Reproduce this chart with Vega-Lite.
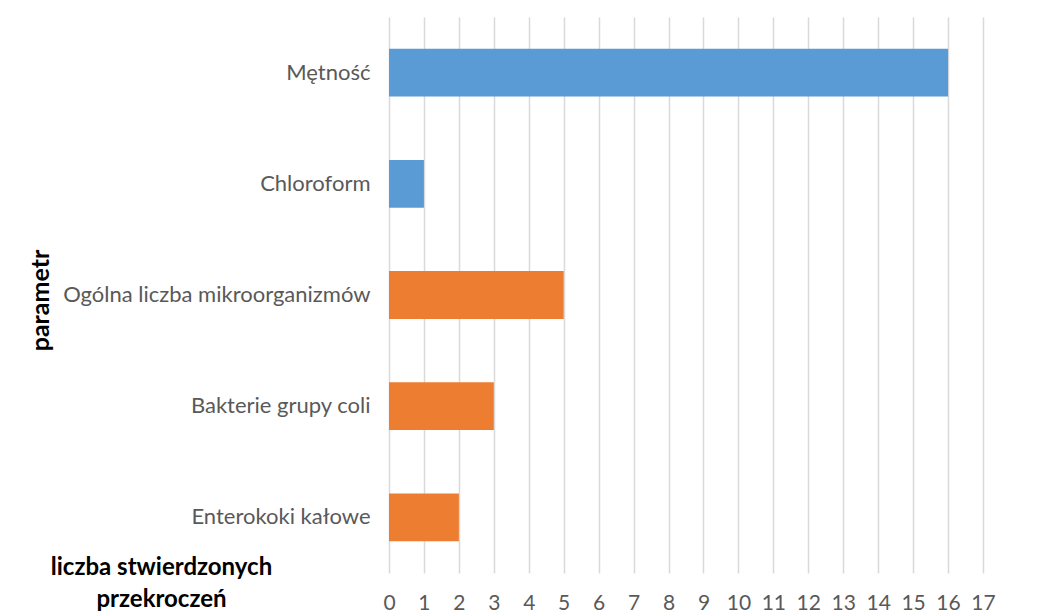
{
  "$schema": "https://vega.github.io/schema/vega-lite/v6.json",
  "width": 594,
  "height": 556,
  "autosize": {"type": "none"},
  "padding": {"left": 389, "top": 17, "right": 54, "bottom": 43},
  "background": "white",
  "data": {
    "values": [
      {"parametr": "Mętność", "liczba": 16, "grupa": "fizykochemiczne"},
      {"parametr": "Chloroform", "liczba": 1, "grupa": "fizykochemiczne"},
      {"parametr": "Ogólna liczba mikroorganizmów", "liczba": 5, "grupa": "mikrobiologiczne"},
      {"parametr": "Bakterie grupy coli", "liczba": 3, "grupa": "mikrobiologiczne"},
      {"parametr": "Enterokoki kałowe", "liczba": 2, "grupa": "mikrobiologiczne"}
    ]
  },
  "mark": {"type": "bar"},
  "encoding": {
    "y": {
      "field": "parametr",
      "type": "nominal",
      "sort": null,
      "scale": {"paddingInner": 0.57, "paddingOuter": 0.285},
      "axis": {
        "title": "parametr",
        "titleFont": "Lato",
        "titleFontSize": 25,
        "titleFontWeight": "bold",
        "titleColor": "#000000",
        "titleAngle": -90,
        "titleX": -349,
        "titleY": 283,
        "titleAlign": "center",
        "titleBaseline": "middle",
        "labelFont": "Lato",
        "labelFontSize": 22,
        "labelColor": "#595959",
        "labelPadding": 19,
        "labelLimit": 400,
        "ticks": false,
        "domain": false
      }
    },
    "x": {
      "field": "liczba",
      "type": "quantitative",
      "scale": {"domain": [0, 17], "nice": false},
      "axis": {
        "title": ["liczba stwierdzonych", "przekroczeń"],
        "titleFont": "Lato",
        "titleFontSize": 24,
        "titleFontWeight": "bold",
        "titleColor": "#000000",
        "titleX": -228,
        "titleY": -18,
        "titleAlign": "center",
        "titleBaseline": "top",
        "titleLineHeight": 32,
        "values": [0,1,2,3,4,5,6,7,8,9,10,11,12,13,14,15,16,17],
        "labelFont": "Lato",
        "labelFontSize": 21,
        "labelColor": "#595959",
        "labelPadding": 30,
        "labelBaseline": "middle",
        "labelFlush": false,
        "labelOverlap": false,
        "ticks": false,
        "domain": false,
        "grid": true,
        "gridColor": "#d9d9d9",
        "gridWidth": 1.5
      }
    },
    "color": {
      "field": "grupa",
      "type": "nominal",
      "scale": {"domain": ["fizykochemiczne", "mikrobiologiczne"], "range": ["#5b9bd5", "#ed7d31"]},
      "legend": null
    }
  },
  "config": {"view": {"stroke": null}}
}
